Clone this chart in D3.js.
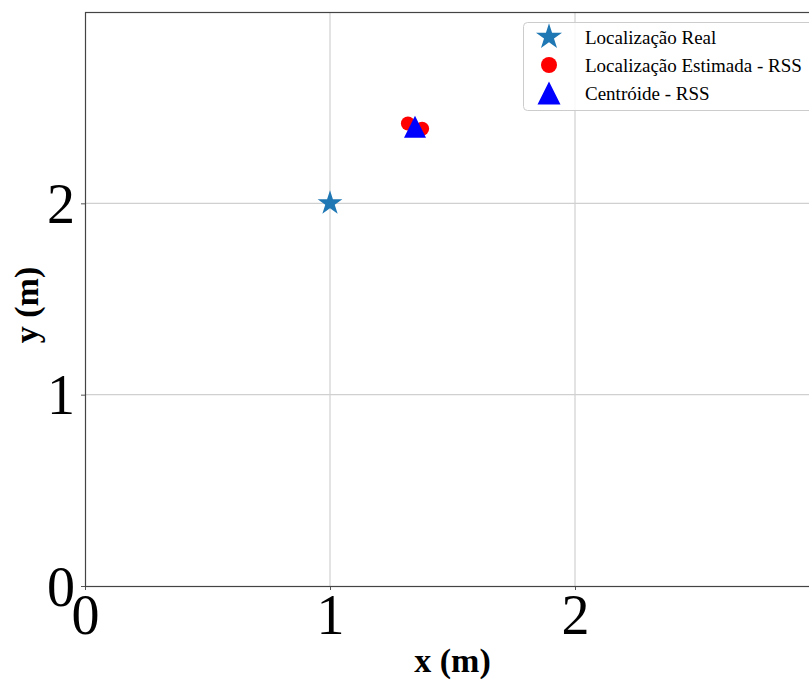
<!DOCTYPE html>
<html>
<head>
<meta charset="utf-8">
<script src="https://cdn.jsdelivr.net/npm/d3@7"></script>
<style>
  html, body { margin: 0; padding: 0; background: #fff; overflow: hidden; }
  svg { display: block; }
</style>
</head>
<body>
<svg id="chart" width="809" height="683"></svg>
<script>
// ---- data ----
const realX = [1.0];
const realY = [2.0];
const estX = [1.318, 1.376];
const estY = [2.417, 2.39];
const centX = [1.347];
const centY = [2.40];
const xTicks = [0, 1, 2];
const yTicks = [0, 1, 2];
const xDomain = [0, 3];
const yDomain = [0, 3];
const legendLabels = ["Localização Real", "Localização Estimada - RSS", "Centróide - RSS"];
const xLabel = "x (m)";
const yLabel = "y (m)";

// ---- layout ----
const W = 809, H = 683;
const pL = 85, pT = 12, pR = 820, pB = 586;
const svg = d3.select("#chart");
const x = d3.scaleLinear().domain(xDomain).range([pL, pR]);
const y = d3.scaleLinear().domain(yDomain).range([pB, pT]);
const serif = "'Liberation Serif', 'Times New Roman', serif";

// grid
svg.append("g").selectAll("line").data(xTicks.slice(1)).join("line")
  .attr("x1", d => x(d)).attr("x2", d => x(d)).attr("y1", pT).attr("y2", pB)
  .attr("stroke", "#d0d0d0").attr("stroke-width", 1.2);
svg.append("g").selectAll("line").data(yTicks.slice(1)).join("line")
  .attr("y1", d => y(d)).attr("y2", d => y(d)).attr("x1", pL).attr("x2", pR)
  .attr("stroke", "#d0d0d0").attr("stroke-width", 1.2);

// axes
const xAxis = d3.axisBottom(x).tickValues(xTicks).tickSize(4).tickPadding(6).tickFormat(d3.format("d"));
const yAxis = d3.axisLeft(y).tickValues(yTicks).tickSize(4).tickPadding(8).tickFormat(d3.format("d"));
const gx = svg.append("g").attr("transform", `translate(0,${pB})`).call(xAxis);
const gy = svg.append("g").attr("transform", `translate(${pL},0)`).call(yAxis);
[gx, gy].forEach(g => {
  g.select(".domain").remove();
  g.selectAll(".tick line").attr("stroke", "#555").attr("stroke-width", 1);
  g.selectAll(".tick text").attr("font-family", serif).attr("font-size", 56).attr("fill", "#000");
});
gx.selectAll(".tick text").attr("dy", null).attr("y", 48);
gy.selectAll(".tick text").attr("dy", null).attr("x", -10).attr("y", 19);

// frame
svg.append("rect").attr("x", pL + 0.5).attr("y", pT + 0.5)
  .attr("width", pR - pL).attr("height", pB - pT)
  .attr("fill", "none").attr("stroke", "#444").attr("stroke-width", 1.2);

// markers
function triPath(cx, cy, h) {
  const p = d3.path();
  p.moveTo(cx, cy - h); p.lineTo(cx - h, cy + h); p.lineTo(cx + h, cy + h); p.closePath();
  return p.toString();
}
const star = d3.symbol().type(d3.symbolStar).size(190);

svg.append("g").selectAll("path").data(realX.map((v, i) => [v, realY[i]])).join("path")
  .attr("d", star).attr("transform", d => `translate(${x(d[0])},${y(d[1])})`)
  .attr("fill", "#1f77b4");
svg.append("g").selectAll("circle").data(estX.map((v, i) => [v, estY[i]])).join("circle")
  .attr("cx", d => x(d[0])).attr("cy", d => y(d[1])).attr("r", 7).attr("fill", "#ff0000");
svg.append("g").selectAll("path").data(centX.map((v, i) => [v, centY[i]])).join("path")
  .attr("d", d => triPath(x(d[0]), y(d[1]), 11)).attr("fill", "#0000ff");

// legend
const lg = svg.append("g");
lg.append("rect").attr("x", 523.5).attr("y", 22.5).attr("width", 320).attr("height", 88)
  .attr("rx", 4).attr("fill", "#fff").attr("fill-opacity", 0.85)
  .attr("stroke", "#cccccc").attr("stroke-width", 1);
const rows = [37, 65, 93];
const mx = 549;
lg.append("path").attr("d", d3.symbol().type(d3.symbolStar).size(210)())
  .attr("transform", `translate(${mx},${rows[0]})`).attr("fill", "#1f77b4");
lg.append("circle").attr("cx", mx).attr("cy", rows[1]).attr("r", 8).attr("fill", "#ff0000");
lg.append("path").attr("d", triPath(mx, rows[2], 11.5)).attr("fill", "#0000ff");
lg.selectAll("text").data(legendLabels).join("text")
  .attr("x", 585).attr("y", (d, i) => rows[i] + 7)
  .attr("font-family", serif).attr("font-size", 19).attr("fill", "#000")
  .text(d => d);

// axis labels
svg.append("text").attr("x", (pL + pR) / 2).attr("y", 672)
  .attr("text-anchor", "middle").attr("font-family", serif).attr("font-weight", "bold")
  .attr("font-size", 34).text(xLabel);
svg.append("text").attr("transform", `translate(38,${(pT + pB) / 2 + 6}) rotate(-90)`)
  .attr("text-anchor", "middle").attr("font-family", serif).attr("font-weight", "bold")
  .attr("font-size", 34).text(yLabel);
</script>
</body>
</html>
